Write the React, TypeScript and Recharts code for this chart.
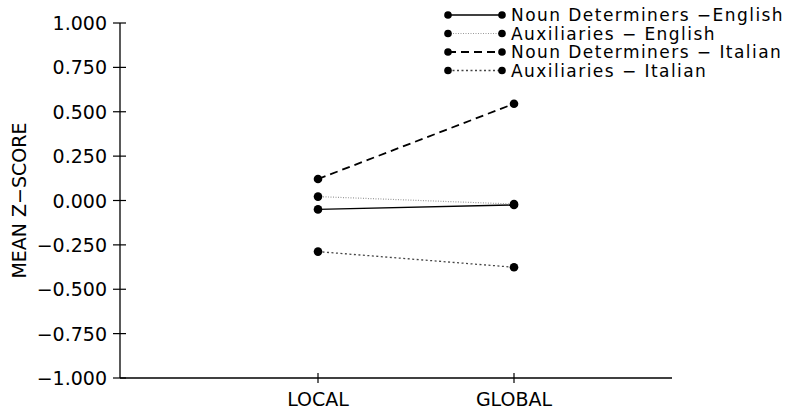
import React from 'react';
import { LineChart, Line, XAxis, YAxis, Legend } from 'recharts';

const categories = ['LOCAL', 'GLOBAL'];
const nounDetEnglish = [-0.05, -0.025];
const auxEnglish = [0.022, -0.02];
const nounDetItalian = [0.121, 0.545];
const auxItalian = [-0.288, -0.376];
const yTicks = [-1, -0.75, -0.5, -0.25, 0, 0.25, 0.5, 0.75, 1];

const seriesNames = [
  'Noun Determiners \u2212English',
  'Auxiliaries \u2212 English',
  'Noun Determiners \u2212 Italian',
  'Auxiliaries \u2212 Italian',
];

const data = categories.map((c, i) => ({
  cat: c,
  nde: nounDetEnglish[i],
  ae: auxEnglish[i],
  ndi: nounDetItalian[i],
  ai: auxItalian[i],
}));

const FONT = '"DejaVu Sans", sans-serif';

const styles = [
  { key: 'nde', stroke: '#000', dash: undefined as string | undefined, width: 1.4 },
  { key: 'ae', stroke: '#9a9a9a', dash: '1 1.5', width: 1.2 },
  { key: 'ndi', stroke: '#000', dash: '8 5', width: 1.8 },
  { key: 'ai', stroke: '#444', dash: '2 2.5', width: 1.3 },
];

const fmt = (v: number) => {
  const s = Math.abs(v).toFixed(3);
  return v < 0 ? '\u2212' + s : s;
};

const YTick = (props: any) => {
  const { x, y, payload } = props;
  return (
    <g>
      <line x1={x - 7} x2={x + 6} y1={y} y2={y} stroke="#000" strokeWidth={1.2} />
      <text x={x - 13} y={y + 7} textAnchor="end" fontFamily={FONT} fontSize={19} fill="#000">
        {fmt(payload.value)}
      </text>
    </g>
  );
};

const XTick = (props: any) => {
  const { x, y, payload } = props;
  return (
    <g>
      <line x1={x} x2={x} y1={y - 5} y2={y + 5} stroke="#000" strokeWidth={1.2} />
      <text x={x} y={y + 28} textAnchor="middle" fontFamily={FONT} fontSize={19} fill="#000">
        {payload.value}
      </text>
    </g>
  );
};

const Dot = (props: any) => {
  const { cx, cy, index } = props;
  if (cx == null || cy == null) return <g key={`d${index}`} />;
  return <circle key={`d${index}`} cx={cx} cy={cy} r={4.3} fill="#000" />;
};

const LegendContent = () => {
  const rowY = [15, 33.5, 52, 70.5];
  return (
    <svg width={788} height={85} style={{ display: 'block' }}>
      {styles.map((s, i) => (
        <g key={s.key}>
          <line
            x1={448}
            x2={502}
            y1={rowY[i]}
            y2={rowY[i]}
            stroke={s.stroke}
            strokeWidth={s.width}
            strokeDasharray={s.dash}
          />
          <circle cx={448} cy={rowY[i]} r={3.8} fill="#000" />
          <circle cx={502} cy={rowY[i]} r={3.8} fill="#000" />
          <text x={511} y={rowY[i] + 6} fontFamily={FONT} fontSize={17} letterSpacing={1.45} fill="#000">
            {seriesNames[i]}
          </text>
        </g>
      ))}
    </svg>
  );
};

export default function App() {
  return (
    <div style={{ position: 'absolute', left: 0, top: 0, width: 788, height: 410, background: '#fff' }}>
      <LineChart width={788} height={410} data={data} margin={{ top: 23, right: 116, bottom: 0, left: 0 }}>
        <XAxis
          dataKey="cat"
          type="category"
          height={32}
          padding={{ left: 198, right: 158 }}
          tickSize={0}
          tickMargin={0}
          tickLine={false}
          axisLine={{ stroke: '#000', strokeWidth: 1.3 }}
          tick={XTick}
          interval={0}
        />
        <YAxis
          type="number"
          domain={[-1, 1]}
          ticks={yTicks}
          width={120}
          tickSize={0}
          tickMargin={0}
          tickLine={false}
          axisLine={{ stroke: '#000', strokeWidth: 1.3 }}
          tick={YTick}
          interval={0}
          label={(p: any) => {
            const vb = p.viewBox || { x: 0, y: 23, width: 120, height: 355 };
            const cy = vb.y + vb.height / 2;
            return (
              <text
                x={26}
                y={cy}
                transform={`rotate(-90 26 ${cy})`}
                textAnchor="middle"
                fontFamily={FONT}
                fontSize={19}
                fill="#000"
              >
                MEAN Z{'\u2212'}SCORE
              </text>
            );
          }}
        />
        <Legend
          layout="horizontal"
          verticalAlign="middle"
          align="center"
          wrapperStyle={{ position: 'absolute', top: 0, left: 0, width: 788, height: 85 }}
          content={LegendContent}
        />
        {styles.map((s, i) => (
          <Line
            key={s.key}
            dataKey={s.key}
            name={seriesNames[i]}
            type="linear"
            stroke={s.stroke}
            strokeWidth={s.width}
            strokeDasharray={s.dash}
            dot={Dot}
            activeDot={false}
            isAnimationActive={false}
          />
        ))}
      </LineChart>
    </div>
  );
}
